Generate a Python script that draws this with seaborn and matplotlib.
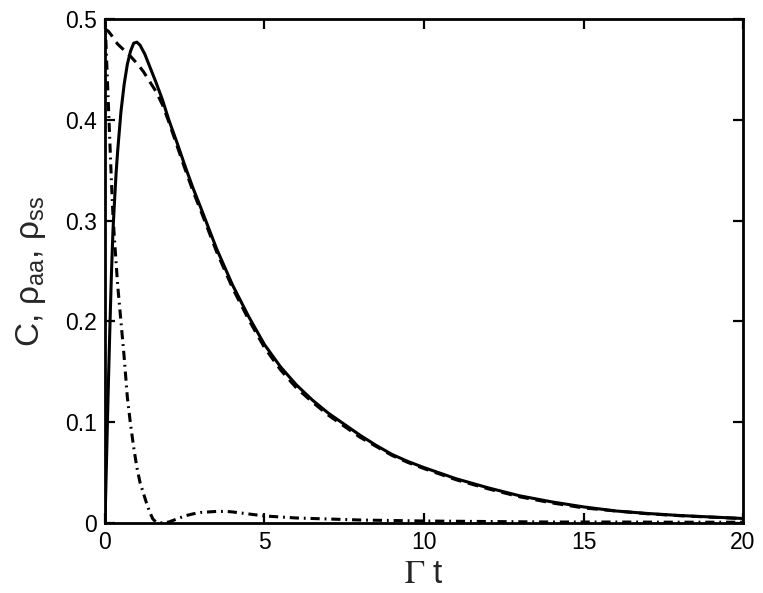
import matplotlib
matplotlib.use("Agg")
import matplotlib.pyplot as plt
import numpy as np
import pandas as pd
import seaborn as sns


# values
t_c = [0, 0.05, 0.1, 0.15, 0.2, 0.25, 0.3, 0.35, 0.4, 0.5, 0.6, 0.7, 0.8, 0.9, 1.0,
       1.1, 1.25, 1.4, 1.6, 1.8, 2.0, 2.25, 2.5, 2.75, 3.0, 3.5, 4.0, 4.5, 5.0,
       5.5, 6.0, 6.5, 7.0, 7.5, 8.0, 8.5, 9.0, 9.5, 10, 11, 12, 13, 14, 15,
       16, 17, 18, 19, 20]
c_vals = [0.0, 0.065, 0.13, 0.19, 0.245, 0.29, 0.32, 0.348, 0.37, 0.408, 0.435, 0.455, 0.468, 0.476, 0.477,
          0.474, 0.465, 0.453, 0.437, 0.42, 0.4, 0.378, 0.355, 0.333, 0.313, 0.272, 0.236, 0.205, 0.177,
          0.155, 0.137, 0.122, 0.109, 0.098, 0.087, 0.077, 0.068, 0.061, 0.055, 0.044, 0.035, 0.027, 0.021, 0.016,
          0.012, 0.0095, 0.0075, 0.006, 0.0045]

t_aa = [0, 0.1, 0.2, 0.3, 0.4, 0.5, 0.6, 0.7, 0.8, 1.0, 1.2, 1.4, 1.6, 1.8, 2.0,
        2.25, 2.5, 2.75, 3.0, 3.5, 4.0, 4.5, 5.0, 5.5, 6.0, 6.5, 7.0, 7.5, 8.0,
        8.5, 9.0, 9.5, 10, 11, 12, 13, 14, 15, 16, 17, 18, 19, 20]
rho_aa = [0.49, 0.488, 0.484, 0.479, 0.475, 0.472, 0.469, 0.466, 0.463, 0.456, 0.448, 0.438, 0.428, 0.415, 0.398,
          0.375, 0.352, 0.33, 0.31, 0.269, 0.233, 0.202, 0.174, 0.152, 0.134, 0.12, 0.107, 0.096, 0.085,
          0.076, 0.067, 0.06, 0.054, 0.043, 0.034, 0.026, 0.02, 0.015, 0.012, 0.0092, 0.0073, 0.0058, 0.0044]

t_ss = [0, 0.05, 0.1, 0.15, 0.2, 0.25, 0.3, 0.4, 0.5, 0.6, 0.7, 0.8, 0.9, 1.0,
        1.1, 1.2, 1.3, 1.4, 1.5, 1.6, 1.8, 2.0, 2.25, 2.5, 2.75, 3.0, 3.5, 3.8,
        4.0, 4.5, 5.0, 6.0, 7.0, 8.0, 9.0, 10, 12, 14, 16, 18, 20]
rho_ss = [0.5, 0.46, 0.42, 0.38, 0.34, 0.305, 0.28, 0.235, 0.2, 0.165, 0.125, 0.098, 0.075, 0.055,
          0.04, 0.03, 0.02, 0.011, 0.004, 0.001, 0.0, 0.001, 0.004, 0.007, 0.009, 0.0105, 0.0115, 0.0115,
          0.011, 0.009, 0.007, 0.005, 0.004, 0.003, 0.0025, 0.002, 0.0015, 0.001, 0.001, 0.0008, 0.0008]

x_ticks = [0, 5, 10, 15, 20]
x_labels = ["0", "5", "10", "15", "20"]
y_ticks = [0, 0.1, 0.2, 0.3, 0.4, 0.5]
y_labels = ["0", "0.1", "0.2", "0.3", "0.4", "0.5"]

df = pd.concat([
    pd.DataFrame({"t": t_c, "value": c_vals, "series": "C"}),
    pd.DataFrame({"t": t_aa, "value": rho_aa, "series": "aa"}),
    pd.DataFrame({"t": t_ss, "value": rho_ss, "series": "ss"}),
], ignore_index=True)

sns.set_theme(style="ticks")
plt.rcParams["font.family"] = ["Liberation Sans", "DejaVu Sans"]
plt.rcParams["mathtext.fontset"] = "custom"
plt.rcParams["mathtext.rm"] = "Liberation Sans"
plt.rcParams["mathtext.it"] = "Liberation Sans:italic"
plt.rcParams["mathtext.bf"] = "Liberation Sans:bold"
plt.rcParams["mathtext.default"] = "regular"

fig, ax = plt.subplots(figsize=(7.63, 5.93), dpi=100)
fig.subplots_adjust(left=0.1376, right=0.9738, bottom=0.118, top=0.968)

sns.lineplot(
    data=df, x="t", y="value", style="series",
    dashes={"C": "", "aa": (3.5, 2.2), "ss": (3.0, 1.6, 0.6, 1.6)},
    color="black", linewidth=2.2, estimator=None, sort=False,
    legend=False, ax=ax,
)

ax.set_xlim(0, 20)
ax.set_ylim(0, 0.5)
ax.set_xticks(x_ticks)
ax.set_xticklabels(x_labels)
ax.set_yticks(y_ticks)
ax.set_yticklabels(y_labels)
ax.tick_params(direction="in", top=True, right=True, length=7, width=1.6,
               labelsize=16.5, pad=6, colors="black")

for side in ["left", "right", "top", "bottom"]:
    ax.spines[side].set_visible(True)
    ax.spines[side].set_linewidth(2)
    ax.spines[side].set_color("black")

ax.set_xlabel(r"$\mathrm{\Gamma}$ t", fontsize=24, labelpad=3, math_fontfamily="stix")
ax.set_ylabel(r"C, $\rho_{aa}$, $\rho_{ss}$", fontsize=24, labelpad=12)

fig.savefig("out.png", dpi=100)
